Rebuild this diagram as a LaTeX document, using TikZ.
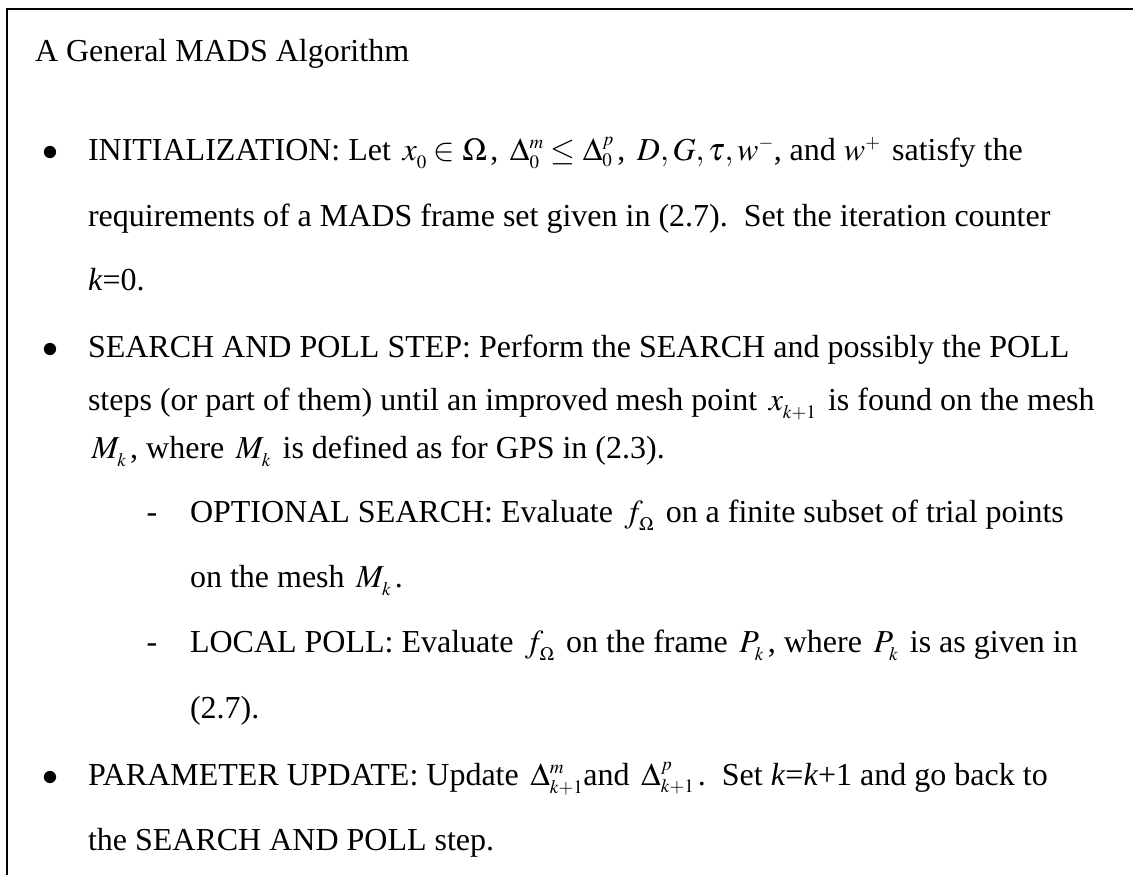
\documentclass[tikz,border=0pt]{standalone}
\usepackage{mathptmx}
\usepackage[no-math]{fontspec}
\setmainfont{Liberation Serif}
% smaller, lower scripts for the formulas set in the 32pt body text
\DeclareMathSizes{32}{32}{19}{14}
\everymath{\fontdimen16\textfont2=8pt\fontdimen17\textfont2=8pt}
\begin{document}
\begin{tikzpicture}[x=1pt,y=-1pt,
  line/.style={anchor=base west,inner sep=0pt,outer sep=0pt,font=\fontsize{32}{38}\selectfont},
  mark1/.style={anchor=base,inner sep=0pt,font=\fontsize{32}{38}\selectfont},
  frameline/.style={line width=2.6pt}]
\useasboundingbox (0,0) rectangle (1133,875);
% open frame: top and left edges only
\draw[frameline] (7,875) -- (7,9) -- (1133,9);

\node[line] (title) at (35,62) {A General MADS Algorithm};

% initialization
\node[mark1] (b1) at (50,160) {$\bullet$};
\node[line] (i1) at (88,160) {INITIALIZATION: Let $\,x_0\in\Omega\,$, $\,\Delta_0^m\le\Delta_0^p\,$, $\,D,G,\tau,w^-$, and $w^+\,$ satisfy the};
\node[line] (i2) at (88,226) {requirements of a MADS frame set given in (2.7).\ \ Set the iteration counter};
\node[line] (i3) at (88,290) {\textit{k}=0.};

% search and poll
\node[mark1] (b2) at (50,357) {$\bullet$};
\node[line] (s1) at (88,357) {SEARCH AND POLL STEP: Perform the SEARCH and possibly the POLL};
\node[line] (s2) at (88,410) {steps (or part of them) until an improved mesh point $\,x_{k+1}\,$ is found on the mesh};
\node[line] (s3) at (88,458) {$\,M_k\,$, where $\,M_k\,$ is defined as for GPS in (2.3).};

\node[mark1] (d1) at (152,522) {-};
\node[line] (o1) at (190,522) {OPTIONAL SEARCH: Evaluate $\,f_\Omega\,$ on a finite subset of trial points};
\node[line] (o2) at (190,587) {on the mesh $\,M_k\,$.};

\node[mark1] (d2) at (152,652) {-};
\node[line] (l1) at (190,652) {LOCAL POLL: Evaluate $\,f_\Omega\,$ on the frame $\,P_k\,$, where $\,P_k\,$ is as given in};
\node[line] (l2) at (190,718) {(2.7).};

% parameter update
\node[mark1] (b3) at (50,785) {$\bullet$};
\node[line] (p1) at (88,785) {PARAMETER UPDATE: Update $\,\Delta^m_{k+1}$and $\,\Delta^p_{k+1}\,$.\ \ Set \textit{k}=\textit{k}+1 and go back to};
\node[line] (p2) at (88,850) {the SEARCH AND POLL step.};
\end{tikzpicture}
\end{document}
